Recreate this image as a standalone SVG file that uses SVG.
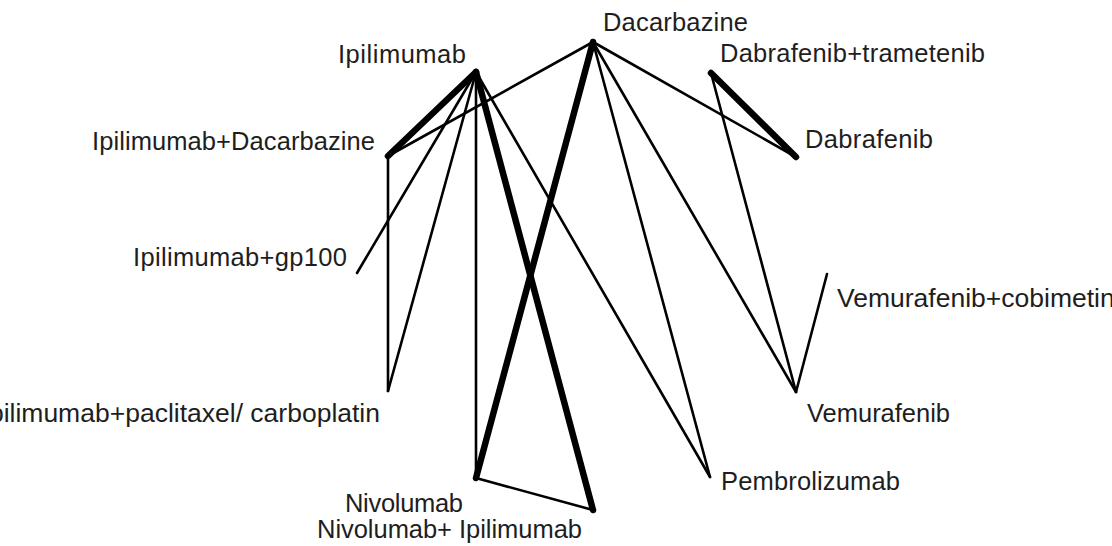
<svg xmlns="http://www.w3.org/2000/svg" width="1112" height="546" viewBox="0 0 1112 546">
<style>
.lbl{font-family:"Liberation Sans",Arial,sans-serif;font-size:25.5px;fill:#1e1e1e}
.big{font-size:26.5px}
.thin{stroke:#000;stroke-width:2.6;fill:none;stroke-linecap:round}
.thick{stroke:#000;stroke-width:6.5;fill:none;stroke-linecap:round}
</style>
<rect width="1112" height="546" fill="#fff"/>
<g id="connectors">
<line class="thick" x1="476" y1="72" x2="388" y2="156"/>
<line class="thin" x1="593" y1="42" x2="388" y2="156"/>
<line class="thin" x1="476" y1="72" x2="357" y2="273"/>
<line class="thin" x1="476" y1="72" x2="388" y2="391"/>
<line class="thin" x1="388" y1="156" x2="388" y2="391"/>
<line class="thin" x1="476" y1="72" x2="476" y2="478"/>
<line class="thick" x1="476" y1="72" x2="593" y2="510"/>
<line class="thin" x1="476" y1="72" x2="710" y2="477"/>
<line class="thick" x1="593" y1="42" x2="476" y2="478"/>
<line class="thin" x1="593" y1="42" x2="710" y2="477"/>
<line class="thin" x1="593" y1="42" x2="796" y2="392"/>
<line class="thin" x1="593" y1="42" x2="796" y2="157"/>
<line class="thick" x1="711" y1="73" x2="796" y2="157"/>
<line class="thin" x1="711" y1="73" x2="796" y2="392"/>
<line class="thin" x1="796" y1="392" x2="827" y2="274"/>
<line class="thin" x1="476" y1="478" x2="593" y2="510"/>
</g>
<g id="n-ipilimumab"><text class="lbl" x="338" y="63" textLength="128">Ipilimumab</text></g>
<g id="n-dacarbazine"><text class="lbl" x="603" y="31" textLength="145">Dacarbazine</text></g>
<g id="n-dabrafenib-trametenib"><text class="lbl" x="720" y="62" textLength="265">Dabrafenib+trametenib</text></g>
<g id="n-dabrafenib"><text class="lbl" x="805" y="148" textLength="128">Dabrafenib</text></g>
<g id="n-ipilimumab-dacarbazine"><text class="lbl" x="92" y="150" textLength="283">Ipilimumab+Dacarbazine</text></g>
<g id="n-ipilimumab-gp100"><text class="lbl" x="133" y="266" textLength="214">Ipilimumab+gp100</text></g>
<g id="n-vemurafenib-cobimetinib"><text class="lbl big" x="837" y="307">Vemurafenib+cobimetinib</text></g>
<g id="n-ipilimumab-paclitaxel"><text class="lbl big" x="380" y="422" text-anchor="end">Ipilimumab+paclitaxel/ carboplatin</text></g>
<g id="n-vemurafenib"><text class="lbl" x="807" y="422" textLength="143">Vemurafenib</text></g>
<g id="n-pembrolizumab"><text class="lbl" x="721" y="490" textLength="179">Pembrolizumab</text></g>
<g id="n-nivolumab"><text class="lbl" x="345" y="512" textLength="118">Nivolumab</text></g>
<g id="n-nivolumab-ipilimumab"><text class="lbl" x="317" y="538" textLength="265">Nivolumab+ Ipilimumab</text></g>
</svg>
